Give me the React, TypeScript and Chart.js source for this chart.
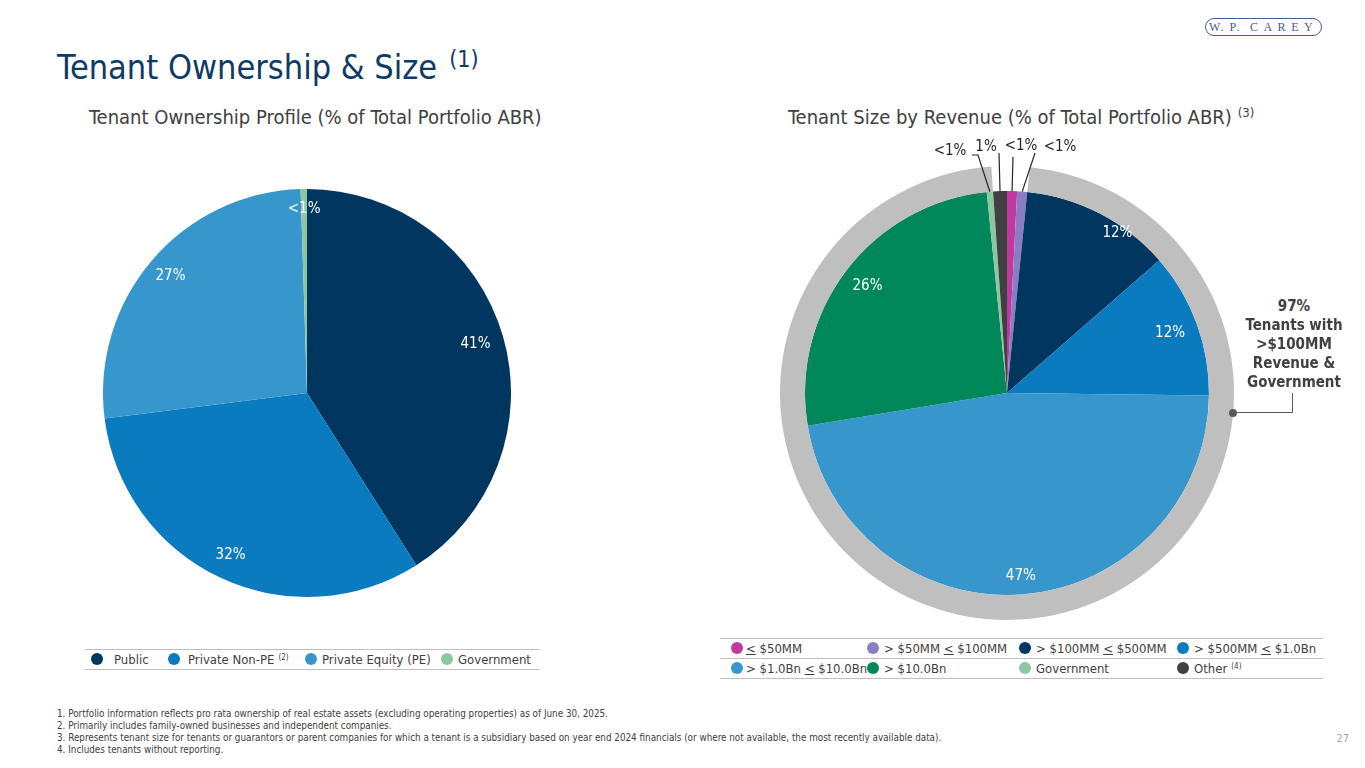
import React, { useEffect, useRef } from "react";
import { Chart, registerables } from "chart.js";

Chart.register(...registerables);

const FONT = '"DejaVu Sans Condensed", "DejaVu Sans", sans-serif';
const TEXT_DARK = "#404040";

// ---------- DATA ----------
const ownershipLabels = ["Public", "Private Non-PE", "Private Equity (PE)", "Government"];
const ownershipValues = [41, 32, 26.5, 0.5];
const ownershipText = ["41%", "32%", "27%", "<1%"];
const ownershipColors = ["#00365F", "#0B7BC0", "#3797CD", "#8CC7A1"];

const sizeLabels = [
  "≤ $50MM",
  "> $50MM ≤ $100MM",
  "> $100MM ≤ $500MM",
  "> $500MM ≤ $1.0Bn",
  "> $1.0Bn ≤ $10.0Bn",
  "> $10.0Bn",
  "Government",
  "Other",
];
const sizeValues = [0.8, 0.8, 12.0, 11.6, 47.2, 26.0, 0.5, 1.1];
const sizeText = ["<1%", "<1%", "12%", "12%", "47%", "26%", "<1%", "1%"];
const sizeColors = ["#C1399E", "#8B7DC3", "#00365F", "#0B7BC0", "#3797CD", "#00875A", "#8CC7A1", "#404040"];
// slices covered by the grey "97%" ring (index range, inclusive)
const ringFrom = 2;
const ringTo = 6;
const ringText = ["97%", "Tenants with", ">$100MM", "Revenue &", "Government"];

const footnotes = [
  "1. Portfolio information reflects pro rata ownership of real estate assets (excluding operating properties) as of June 30, 2025.",
  "2. Primarily includes family-owned businesses and independent companies.",
  "3. Represents tenant size for tenants or guarantors or parent companies for which a tenant is a subsidiary based on year end 2024 financials (or where not available, the most recently available data).",
  "4. Includes tenants without reporting.",
];

// ---------- LAYOUT (label placement, not data) ----------
// [fraction along slice angle, fraction of radius]
const ownershipPlacement = [[0.5, 0.86], [0.5, 0.88], [0.5, 0.88], [0.5, 0.9]];
const sizePlacement: (number[] | null)[] = [null, null, [0.67, 0.96], [0.5, 0.86], [0.5, 0.91], [0.5, 0.87], null, null];
// outside labels: text offset from centre and leader points from centre; leader ends at slice edge
const sizeOutside: Record<number, { t: number[]; pts: number[][] }> = {
  0: { t: [14, -247], pts: [[6, -236]] },
  1: { t: [53, -246], pts: [[28, -240]] },
  6: { t: [-57, -242], pts: [[-35, -238], [-29, -238]] },
  7: { t: [-21, -246], pts: [[-8, -240]] },
};

function labelPlugin(id: string, dsIndex: number, texts: string[], placement: (number[] | null)[], outside: Record<number, { t: number[]; pts: number[][] }>) {
  return {
    id,
    afterDatasetsDraw(chart: any) {
      const ctx = chart.ctx as CanvasRenderingContext2D;
      const meta = chart.getDatasetMeta(dsIndex);
      ctx.save();
      ctx.textAlign = "center";
      ctx.textBaseline = "middle";
      meta.data.forEach((arc: any, i: number) => {
        const p = arc.getProps(["x", "y", "startAngle", "endAngle", "outerRadius"], true);
        const pl = placement[i];
        if (pl) {
          const a = p.startAngle + (p.endAngle - p.startAngle) * pl[0];
          const r = p.outerRadius * pl[1];
          ctx.fillStyle = "#ffffff";
          ctx.font = `15px ${FONT}`;
          ctx.fillText(texts[i], p.x + Math.cos(a) * r, p.y + Math.sin(a) * r);
        } else if (outside[i]) {
          const o = outside[i];
          const a = (p.startAngle + p.endAngle) / 2;
          const ax = p.x + Math.cos(a) * p.outerRadius;
          const ay = p.y + Math.sin(a) * p.outerRadius;
          ctx.strokeStyle = "#262626";
          ctx.lineWidth = 1.2;
          ctx.beginPath();
          o.pts.forEach((pt, k) => {
            if (k === 0) ctx.moveTo(p.x + pt[0], p.y + pt[1]);
            else ctx.lineTo(p.x + pt[0], p.y + pt[1]);
          });
          ctx.lineTo(ax, ay);
          ctx.stroke();
          ctx.fillStyle = "#262626";
          ctx.font = `15px ${FONT}`;
          ctx.fillText(texts[i], p.x + o.t[0], p.y + o.t[1]);
        }
      });
      ctx.restore();
    },
  };
}

const Txt = (props: { x: number; y: number; size: number; color?: string; weight?: number | string; children: any; align?: "left" | "center" | "right"; font?: string }) => {
  const { x, y, size, color = TEXT_DARK, weight = 400, children, align = "left", font = FONT } = props;
  const top = y - 0.846 * size;
  const style: any = {
    position: "absolute",
    top,
    fontSize: size,
    lineHeight: `${size}px`,
    color,
    fontWeight: weight,
    whiteSpace: "nowrap",
    fontFamily: font,
  };
  if (align === "left") style.left = x;
  else if (align === "center") {
    style.left = x;
    style.transform = "translateX(-50%)";
  } else style.right = 1365 - x;
  return <div style={style}>{children}</div>;
};

const Sup = ({ children, scale = 0.62, gap = 4 }: { children: any; scale?: number; gap?: number }) => (
  <span style={{ position: "relative", top: "-0.55em", fontSize: `${scale}em`, lineHeight: 0, marginLeft: gap }}>{children}</span>
);

const U = () => <span style={{ textDecoration: "underline" }}>&lt;</span>;

const Dot = ({ x, y, color }: { x: number; y: number; color: string }) => (
  <div style={{ position: "absolute", left: x - 6, top: y - 6, width: 12, height: 12, borderRadius: 6, background: color }} />
);

const HLine = ({ x1, x2, y, color = "#BFBFBF", w = 1 }: { x1: number; x2: number; y: number; color?: string; w?: number }) => (
  <div style={{ position: "absolute", left: x1, top: y, width: x2 - x1, height: w, background: color }} />
);

export default function App() {
  const leftRef = useRef<HTMLCanvasElement>(null);
  const rightRef = useRef<HTMLCanvasElement>(null);

  useEffect(() => {
    const left = new Chart(leftRef.current!, {
      type: "pie",
      data: {
        labels: ownershipLabels,
        datasets: [
          {
            data: ownershipValues,
            backgroundColor: ownershipColors,
            borderWidth: 0,
            hoverOffset: 0,
            offset: 0,
          } as any,
        ],
      },
      options: {
        animation: false,
        responsive: true,
        maintainAspectRatio: false,
        layout: { padding: 0 },
        plugins: { legend: { display: false }, tooltip: { enabled: false } },
      },
      plugins: [labelPlugin("ownLabels", 0, ownershipText, ownershipPlacement, {})],
    });

    const total = sizeValues.reduce((a, b) => a + b, 0);
    const ringStart = sizeValues.slice(0, ringFrom).reduce((a, b) => a + b, 0);
    const ringSpan = sizeValues.slice(ringFrom, ringTo + 1).reduce((a, b) => a + b, 0);

    const right = new Chart(rightRef.current!, {
      type: "pie",
      data: {
        labels: sizeLabels,
        datasets: [
          {
            data: [ringSpan, total - ringSpan],
            backgroundColor: ["#BFBFBF", "rgba(0,0,0,0)"],
            borderWidth: 0,
            hoverOffset: 0,
            offset: 0,
            weight: 25,
            rotation: (ringStart / total) * 360,
          } as any,
          {
            data: sizeValues,
            backgroundColor: sizeColors,
            borderWidth: 0,
            hoverOffset: 0,
            offset: 0,
            weight: 202,
          } as any,
        ],
      },
      options: {
        animation: false,
        responsive: true,
        maintainAspectRatio: false,
        layout: { padding: { top: 36, left: 20, right: 20, bottom: 10 } },
        plugins: { legend: { display: false }, tooltip: { enabled: false } },
      },
      plugins: [labelPlugin("sizeLabels", 1, sizeText, sizePlacement, sizeOutside)],
    });

    return () => {
      left.destroy();
      right.destroy();
    };
  }, []);

  const leftLegendX = [97, 174, 311, 447];
  const leftLegendTextX = [114, 188, 322, 458];
  const rightLegendX = [737, 873, 1025, 1183];
  const rightLegendTextX = [746, 884, 1036, 1194];

  const sizeLegendNode = (i: number) => {
    switch (i) {
      case 0: return <><U /> $50MM</>;
      case 1: return <>&gt; $50MM <U /> $100MM</>;
      case 2: return <>&gt; $100MM <U /> $500MM</>;
      case 3: return <>&gt; $500MM <U /> $1.0Bn</>;
      case 4: return <>&gt; $1.0Bn <U /> $10.0Bn</>;
      case 7: return <>{sizeLabels[i]}<Sup>(4)</Sup></>;
      default: return <>{sizeLabels[i]}</>;
    }
  };

  return (
    <div style={{ position: "absolute", left: 0, top: 0, width: 1365, height: 768, background: "#fff", overflow: "hidden", fontFamily: FONT }}>
      {/* logo */}
      <div
        style={{
          position: "absolute",
          left: 1205,
          top: 18,
          width: 115,
          height: 16,
          border: "1.3px solid #3F5E8F",
          borderRadius: 10,
          color: "#3F5E8F",
          fontFamily: '"Liberation Serif", "DejaVu Serif", serif',
          fontSize: 12,
          lineHeight: "16px",
          textAlign: "center",
          whiteSpace: "nowrap",
        }}
      >
        <span style={{ letterSpacing: 1.5 }}>W. P.</span>
        <span style={{ letterSpacing: 5.5, marginLeft: 9 }}>CAREY</span>
      </div>

      {/* title */}
      <Txt x={57} y={79} size={34} color="#0E3A66">
        Tenant Ownership &amp; Size<Sup scale={0.68} gap={12}>(1)</Sup>
      </Txt>

      <Txt x={89} y={124} size={20} color={TEXT_DARK}>Tenant Ownership Profile (% of Total Portfolio ABR)</Txt>
      <Txt x={788} y={124} size={20} color={TEXT_DARK}>
        Tenant Size by Revenue (% of Total Portfolio ABR)<Sup scale={0.65} gap={6}>(3)</Sup>
      </Txt>

      {/* left pie */}
      <div style={{ position: "absolute", left: 103, top: 189, width: 408, height: 408 }}>
        <canvas ref={leftRef} />
      </div>

      {/* right pie */}
      <div style={{ position: "absolute", left: 760, top: 130, width: 494, height: 500 }}>
        <canvas ref={rightRef} />
      </div>

      {/* right annotation */}
      {ringText.map((t, i) => (
        <Txt key={i} x={1294} y={312 + i * 19} size={15} weight={700} align="center" color={TEXT_DARK}>{t}</Txt>
      ))}
      <HLine x1={1234} x2={1293} y={412} color="#595959" w={1.3} />
      <div style={{ position: "absolute", left: 1292, top: 393, width: 1.3, height: 20, background: "#595959" }} />
      <div style={{ position: "absolute", left: 1229, top: 409, width: 8, height: 8, borderRadius: 4, background: "#595959" }} />

      {/* left legend */}
      <HLine x1={85} x2={540} y={649} />
      <HLine x1={85} x2={540} y={669} />
      {ownershipLabels.map((l, i) => (
        <React.Fragment key={l}>
          <Dot x={leftLegendX[i]} y={659} color={ownershipColors[i]} />
          <Txt x={leftLegendTextX[i]} y={664} size={13}>
            {l}
            {i === 1 ? <Sup>(2)</Sup> : null}
          </Txt>
        </React.Fragment>
      ))}

      {/* right legend */}
      <HLine x1={720} x2={1323} y={638} />
      <HLine x1={720} x2={1323} y={658} />
      <HLine x1={720} x2={1323} y={678} />
      {sizeLabels.map((l, i) => {
        const row = Math.floor(i / 4);
        const col = i % 4;
        const y = 648 + row * 20;
        return (
          <React.Fragment key={l}>
            <Txt x={rightLegendTextX[col]} y={y + 5} size={13}>{sizeLegendNode(i)}</Txt>
            <Dot x={rightLegendX[col]} y={y} color={sizeColors[i]} />
          </React.Fragment>
        );
      })}

      {/* footnotes */}
      {footnotes.map((f, i) => (
        <Txt key={i} x={57} y={717 + i * 12} size={9.8} color={TEXT_DARK}>{f}</Txt>
      ))}
      <Txt x={1349} y={742} size={11} color="#A6A6A6" align="right">27</Txt>
    </div>
  );
}
